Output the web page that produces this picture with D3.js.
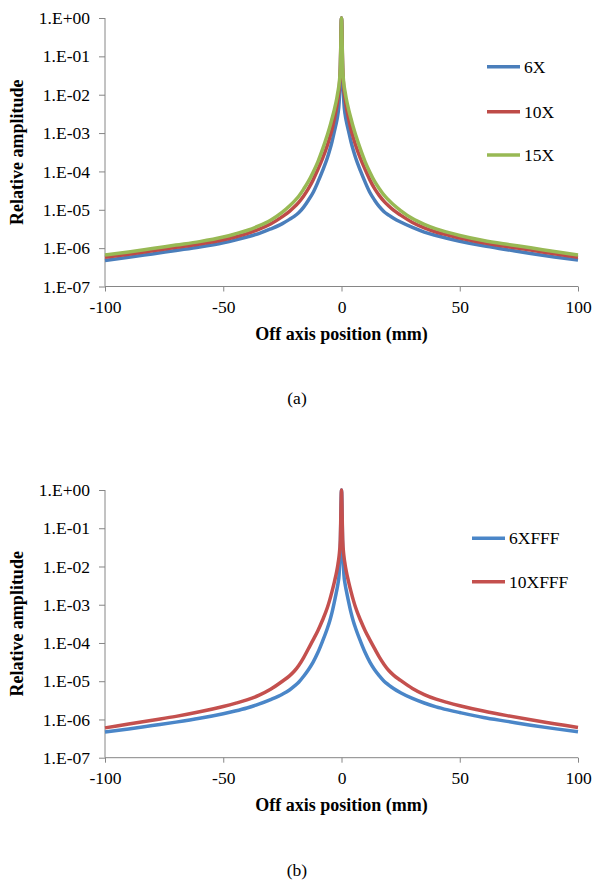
<!DOCTYPE html>
<html><head><meta charset="utf-8">
<script src="https://cdn.jsdelivr.net/npm/d3@7"></script>
<style>html,body{margin:0;padding:0;background:#fff;} svg{display:block;} text{font-family:"Liberation Serif", serif;}</style>
</head><body>
<svg id="chart" width="604" height="887"></svg>
<script>
// ---- data (log10 of relative amplitude at each off-axis position, mm) ----
const positions = [-100,-90,-80,-70,-60,-50,-45,-40,-35,-30,-25,-22,-20,-18,-16,-14,-12,-10,-8,-6,-5,-4,-3,-2,-1.5,-1,-0.5,0,
                   0.5,1,1.5,2,3,4,5,6,8,10,12,14,16,18,20,22,25,30,35,40,45,50,60,70,80,90,100];

const log6X  = [-6.32,-6.24,-6.15,-6.06,-5.97,-5.86,-5.79,-5.71,-5.62,-5.50,-5.36,-5.25,-5.17,-5.07,-4.93,-4.75,-4.55,-4.28,-3.98,-3.65,-3.45,-3.22,-2.95,-2.68,-2.50,-2.20,-1.50,0,
                -1.50,-2.20,-2.50,-2.68,-2.95,-3.22,-3.45,-3.65,-3.98,-4.28,-4.55,-4.75,-4.92,-5.05,-5.14,-5.22,-5.32,-5.46,-5.58,-5.67,-5.75,-5.82,-5.94,-6.04,-6.14,-6.23,-6.31];
const log10X = [-6.24,-6.16,-6.07,-5.98,-5.89,-5.78,-5.71,-5.62,-5.51,-5.37,-5.18,-5.04,-4.93,-4.80,-4.64,-4.45,-4.22,-3.95,-3.66,-3.32,-3.12,-2.90,-2.62,-2.30,-2.10,-1.85,-1.30,0,
                -1.30,-1.85,-2.10,-2.30,-2.62,-2.90,-3.12,-3.32,-3.66,-3.95,-4.22,-4.45,-4.63,-4.78,-4.90,-5.01,-5.14,-5.33,-5.47,-5.58,-5.66,-5.74,-5.86,-5.96,-6.05,-6.15,-6.24];
const log15X = [-6.18,-6.10,-6.01,-5.92,-5.83,-5.71,-5.63,-5.54,-5.42,-5.27,-5.06,-4.90,-4.78,-4.64,-4.46,-4.26,-4.02,-3.75,-3.42,-3.05,-2.85,-2.62,-2.38,-2.10,-1.92,-1.72,-1.30,0,
                -1.30,-1.72,-1.92,-2.10,-2.38,-2.62,-2.85,-3.05,-3.42,-3.75,-4.02,-4.26,-4.45,-4.62,-4.75,-4.87,-5.02,-5.23,-5.38,-5.50,-5.59,-5.67,-5.80,-5.90,-5.99,-6.09,-6.18];

const log6XFFF  = [-6.33,-6.25,-6.16,-6.07,-5.97,-5.85,-5.78,-5.70,-5.60,-5.48,-5.34,-5.23,-5.13,-5.02,-4.87,-4.70,-4.50,-4.25,-3.95,-3.62,-3.43,-3.20,-2.92,-2.62,-2.45,-2.20,-1.50,0,
                   -1.50,-2.20,-2.45,-2.62,-2.92,-3.20,-3.43,-3.62,-3.95,-4.25,-4.50,-4.70,-4.86,-5.00,-5.10,-5.19,-5.30,-5.45,-5.57,-5.67,-5.75,-5.82,-5.95,-6.05,-6.15,-6.24,-6.32];
const log10XFFF = [-6.22,-6.12,-6.02,-5.92,-5.80,-5.66,-5.58,-5.49,-5.37,-5.21,-5.00,-4.86,-4.74,-4.58,-4.38,-4.15,-3.92,-3.68,-3.40,-3.08,-2.88,-2.65,-2.40,-2.12,-1.94,-1.72,-1.30,0,
                   -1.30,-1.72,-1.94,-2.12,-2.40,-2.65,-2.88,-3.08,-3.40,-3.68,-3.92,-4.15,-4.37,-4.56,-4.72,-4.84,-4.98,-5.19,-5.35,-5.47,-5.56,-5.64,-5.78,-5.90,-6.01,-6.11,-6.21];

const seriesA = ["6X","10X","15X"];
const seriesB = ["6XFFF","10XFFF"];
const colorsA = ["#4A7EBB","#BE4B48","#98B954"];
const colorsB = ["#4A86C8","#C4504E"];

const xTicks = [-100,-50,0,50,100];
const xTickLabels = ["-100","-50","0","50","100"];
const yTickExps = [0,-1,-2,-3,-4,-5,-6,-7];
const yTickLabels = ["1.E+00","1.E-01","1.E-02","1.E-03","1.E-04","1.E-05","1.E-06","1.E-07"];

const svg = d3.select("#chart");
const FONT = "Liberation Serif";
const AXIS = "#868686";

function panel(cfg){
  const g = svg.append("g");
  const x = d3.scaleLinear().domain([-100,100]).range([105,578]);
  const y = d3.scaleLog().domain([1e-7,1]).range([cfg.bottom, cfg.top]);

  // y axis
  const ya = g.append("g").attr("transform","translate(105,0)")
    .call(d3.axisLeft(y).tickValues(yTickExps.map(e=>Math.pow(10,e)))
      .tickFormat((d,i)=>yTickLabels[i]).tickSize(6).tickPadding(9));
  ya.select(".domain").attr("stroke",AXIS).attr("d",`M0,${cfg.top}V${cfg.bottom}`);
  ya.selectAll(".tick line").attr("stroke",AXIS);
  ya.selectAll(".tick text").attr("font-family",FONT).attr("font-size","17.5px").attr("fill","#000");

  // x axis
  const xa = g.append("g").attr("transform",`translate(0,${cfg.bottom})`)
    .call(d3.axisBottom(x).tickValues(xTicks).tickFormat((d,i)=>xTickLabels[i]).tickSize(5).tickPadding(9));
  xa.select(".domain").attr("stroke",AXIS).attr("d","M105,0H578");
  xa.selectAll(".tick line").attr("stroke",AXIS);
  xa.selectAll(".tick text").attr("font-family",FONT).attr("font-size","17.5px").attr("fill","#000");

  // lines
  const line = d3.line().x((d,i)=>x(positions[i])).y(d=>y(Math.pow(10,d))).curve(d3.curveMonotoneX);
  cfg.data.forEach((arr,k)=>{
    g.append("path").attr("d",line(arr)).attr("fill","none")
      .attr("stroke",cfg.colors[k]).attr("stroke-width",3.5).attr("stroke-linejoin","round");
  });

  // axis titles
  g.append("text").attr("x",341.5).attr("y",cfg.bottom+53).attr("text-anchor","middle")
    .attr("font-family",FONT).attr("font-weight","bold").attr("font-size","18px").text("Off axis position (mm)");
  g.append("text").attr("transform",`translate(23,${(cfg.top+cfg.bottom)/2}) rotate(-90)`)
    .attr("text-anchor","middle").attr("font-family",FONT).attr("font-weight","bold").attr("font-size","18px")
    .text("Relative amplitude");

  // legend
  cfg.names.forEach((n,k)=>{
    const ly = cfg.legY[k];
    g.append("line").attr("x1",cfg.legX).attr("x2",cfg.legX+33).attr("y1",ly).attr("y2",ly)
      .attr("stroke",cfg.colors[k]).attr("stroke-width",3.5);
    g.append("text").attr("x",cfg.legX+37).attr("y",ly+6).attr("font-family",FONT)
      .attr("font-size","17.5px").text(n);
  });

  // caption
  g.append("text").attr("x",297).attr("y",cfg.caption).attr("text-anchor","middle")
    .attr("font-family",FONT).attr("font-size","17.5px").text(cfg.label);
}

panel({top:18, bottom:286.5, data:[log6X,log10X,log15X], colors:colorsA, names:seriesA,
       legX:487, legY:[66.7,111.7,155], caption:404, label:"(a)"});
panel({top:490, bottom:757.7, data:[log6XFFF,log10XFFF], colors:colorsB, names:seriesB,
       legX:472, legY:[538.3,581.7], caption:876, label:"(b)"});
</script>
</body></html>
